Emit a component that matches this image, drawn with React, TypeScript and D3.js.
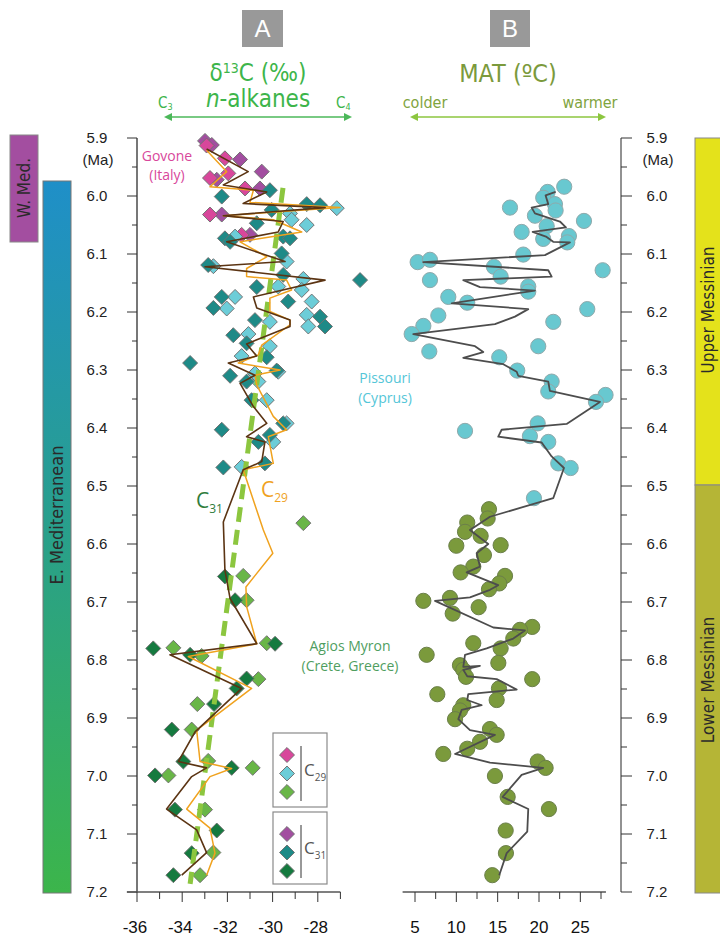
import React from 'react';
import * as d3 from 'd3';

// ---- panel A: d13C of n-alkanes, [value (permil), age (Ma)]
const govoneC29 = [[-32.92, 5.913], [-32.11, 5.935], [-31.96, 5.961], [-32.77, 5.969], [-31.22, 5.987], [-32.77, 6.032], [-31.37, 6.067]];
const govoneC31 = [[-32.99, 5.905], [-32.69, 5.912], [-31.44, 5.937], [-30.48, 5.958], [-32.47, 5.972], [-30.56, 5.987], [-32.25, 6.032], [-31.0, 6.067]];
const pissouriC29 = [[-29.23, 6.030], [-27.16, 6.021], [-29.16, 6.041], [-28.49, 6.050], [-31.66, 6.070], [-29.38, 6.113], [-32.62, 6.121], [-28.64, 6.143], [-29.75, 6.156], [-28.71, 6.162], [-31.66, 6.174], [-32.03, 6.194], [-28.27, 6.182], [-28.49, 6.205], [-30.12, 6.217], [-28.42, 6.225], [-31.07, 6.238], [-30.12, 6.259], [-31.37, 6.276], [-30.63, 6.320], [-30.78, 6.306], [-29.75, 6.303], [-30.26, 6.352], [-29.38, 6.392], [-29.97, 6.424], [-31.37, 6.467]];
const pissouriC31 = [[-30.12, 5.990], [-32.25, 6.001], [-30.04, 6.024], [-28.49, 6.014], [-27.90, 6.016], [-30.70, 6.047], [-29.53, 6.070], [-29.23, 6.073], [-32.11, 6.073], [-31.88, 6.079], [-29.60, 6.099], [-32.85, 6.119], [-29.53, 6.136], [-26.13, 6.145], [-30.70, 6.157], [-32.25, 6.174], [-32.62, 6.193], [-29.31, 6.182], [-27.90, 6.208], [-30.78, 6.214], [-27.68, 6.225], [-31.74, 6.240], [-31.15, 6.254], [-33.65, 6.288], [-30.26, 6.278], [-31.88, 6.310], [-31.15, 6.320], [-29.82, 6.301], [-30.93, 6.352], [-29.53, 6.392], [-32.25, 6.403], [-30.63, 6.424], [-30.12, 6.412], [-32.18, 6.468], [-30.34, 6.461]];
const agiosC29 = [[-28.64, 6.564], [-31.30, 6.655], [-31.15, 6.697], [-30.26, 6.771], [-34.39, 6.779], [-33.14, 6.793], [-30.63, 6.833], [-33.33, 6.876], [-33.58, 6.920], [-32.85, 6.974], [-30.88, 6.986], [-34.61, 6.999], [-32.99, 7.058], [-32.62, 7.132], [-33.21, 7.171]];
const agiosC31 = [[-32.11, 6.656], [-31.66, 6.697], [-29.89, 6.772], [-35.28, 6.780], [-33.65, 6.791], [-31.15, 6.832], [-31.59, 6.849], [-32.59, 6.876], [-34.46, 6.920], [-33.95, 6.975], [-31.81, 6.986], [-35.20, 6.999], [-34.32, 7.058], [-32.47, 7.094], [-33.58, 7.133], [-34.39, 7.171]];

const lineC31 = [[-32.92, 5.919], [-31.08, 5.958], [-32.18, 5.981], [-30.26, 5.993], [-31.30, 6.013], [-27.68, 6.020], [-32.18, 6.034], [-29.53, 6.044], [-29.75, 6.062], [-32.03, 6.079], [-29.45, 6.113], [-32.99, 6.122], [-27.68, 6.145], [-30.85, 6.174], [-30.70, 6.193], [-29.23, 6.214], [-29.23, 6.225], [-31.15, 6.255], [-30.70, 6.276], [-31.96, 6.288], [-30.78, 6.309], [-31.44, 6.323], [-30.85, 6.363], [-30.26, 6.392], [-31.15, 6.415], [-30.34, 6.424], [-30.48, 6.458], [-31.30, 6.472], [-32.18, 6.562], [-32.11, 6.645], [-31.88, 6.694], [-30.70, 6.772], [-34.54, 6.791], [-31.37, 6.849], [-33.43, 6.924], [-34.17, 6.975], [-32.92, 6.986], [-33.58, 7.001], [-34.69, 7.057], [-33.36, 7.093], [-32.92, 7.132], [-34.02, 7.171]];
const lineC29 = [[-32.92, 5.921], [-32.03, 5.958], [-32.77, 5.984], [-30.85, 5.990], [-31.0, 6.011], [-27.02, 6.020], [-32.18, 6.034], [-29.97, 6.041], [-28.71, 6.062], [-31.44, 6.079], [-30.26, 6.105], [-31.15, 6.125], [-31.15, 6.139], [-29.38, 6.145], [-29.16, 6.162], [-30.12, 6.176], [-30.12, 6.199], [-29.23, 6.214], [-29.23, 6.222], [-30.48, 6.257], [-30.63, 6.274], [-31.52, 6.288], [-29.67, 6.300], [-30.78, 6.309], [-30.70, 6.326], [-29.97, 6.380], [-29.38, 6.403], [-30.19, 6.415], [-29.97, 6.461], [-31.30, 6.472], [-30.41, 6.576], [-29.99, 6.616], [-31.18, 6.674], [-31.15, 6.708], [-30.70, 6.772], [-33.73, 6.794], [-30.93, 6.849], [-33.36, 6.921], [-33.21, 6.975], [-31.81, 6.987], [-32.77, 7.001], [-33.80, 7.057], [-32.77, 7.090], [-32.55, 7.133], [-32.92, 7.171]];
const trendLine = [[-29.54, 5.986], [-33.65, 7.186]];

// ---- panel B: MAT, [temperature (C), age (Ma)]
const pissouriMAT = [[23.05, 5.984], [21.04, 5.993], [20.51, 6.003], [16.49, 6.020], [21.93, 6.014], [22.01, 6.025], [19.51, 6.034], [25.44, 6.043], [20.93, 6.052], [17.90, 6.062], [23.62, 6.069], [20.51, 6.074], [23.42, 6.080], [18.10, 6.101], [5.32, 6.114], [6.81, 6.110], [27.70, 6.128], [14.55, 6.122], [6.81, 6.145], [15.36, 6.139], [18.70, 6.156], [18.70, 6.165], [9.03, 6.174], [11.32, 6.184], [25.84, 6.195], [7.82, 6.206], [21.73, 6.217], [6.01, 6.224], [4.60, 6.238], [19.91, 6.259], [6.73, 6.268], [15.19, 6.278], [17.37, 6.301], [21.53, 6.320], [21.12, 6.337], [28.05, 6.343], [26.89, 6.355], [11.05, 6.405], [19.84, 6.392], [18.90, 6.414], [21.12, 6.424], [22.33, 6.461], [23.83, 6.469], [19.39, 6.521]];
const agiosMAT = [[13.95, 6.540], [13.79, 6.556], [11.32, 6.563], [11.05, 6.579], [12.94, 6.586], [10.0, 6.603], [15.36, 6.602], [13.34, 6.619], [12.05, 6.639], [10.52, 6.649], [15.89, 6.655], [15.19, 6.668], [13.95, 6.678], [6.01, 6.698], [9.23, 6.693], [9.56, 6.720], [12.70, 6.709], [19.18, 6.743], [17.70, 6.748], [16.89, 6.763], [12.05, 6.771], [15.36, 6.780], [6.41, 6.791], [15.08, 6.805], [10.44, 6.809], [10.84, 6.817], [11.17, 6.829], [19.18, 6.833], [15.16, 6.849], [7.70, 6.859], [14.88, 6.869], [10.84, 6.878], [10.44, 6.887], [9.84, 6.902], [14.07, 6.919], [14.88, 6.929], [12.86, 6.941], [11.32, 6.953], [8.42, 6.962], [19.84, 6.975], [20.80, 6.986], [14.67, 7.0], [16.21, 7.036], [21.20, 7.057], [15.97, 7.094], [16.00, 7.133], [14.35, 7.171]];
const matLine = [[22.01, 5.993], [20.80, 5.999], [21.12, 6.014], [19.11, 6.020], [19.51, 6.030], [22.53, 6.044], [23.26, 6.054], [19.23, 6.062], [20.84, 6.070], [21.72, 6.079], [23.74, 6.080], [20.72, 6.102], [6.00, 6.114], [21.12, 6.128], [21.53, 6.139], [10.84, 6.145], [12.86, 6.157], [19.51, 6.163], [9.44, 6.185], [18.70, 6.195], [17.09, 6.208], [14.67, 6.221], [4.79, 6.238], [12.26, 6.259], [13.26, 6.269], [10.84, 6.279], [15.68, 6.290], [17.30, 6.303], [17.49, 6.310], [21.12, 6.320], [21.32, 6.336], [27.37, 6.355], [23.34, 6.393], [15.48, 6.403], [15.07, 6.415], [20.32, 6.425], [21.53, 6.449], [23.02, 6.469], [21.72, 6.521], [14.07, 6.553], [11.65, 6.576], [13.86, 6.600], [12.46, 6.616], [12.86, 6.639], [11.25, 6.649], [15.07, 6.671], [14.07, 6.679], [11.65, 6.692], [7.42, 6.698], [14.47, 6.744], [18.30, 6.749], [16.89, 6.763], [13.67, 6.780], [11.05, 6.791], [10.84, 6.812], [12.86, 6.810], [10.84, 6.817], [11.32, 6.828], [14.88, 6.833], [17.30, 6.851], [11.44, 6.859], [11.32, 6.869], [13.07, 6.878], [10.65, 6.886], [10.24, 6.902], [11.65, 6.921], [14.67, 6.929], [9.84, 6.962], [14.07, 6.977], [20.51, 6.986], [17.90, 6.998], [15.60, 7.036], [18.70, 7.057], [18.58, 7.096], [16.09, 7.133], [15.19, 7.171]];

const ageLabels = [5.9, 6.0, 6.1, 6.2, 6.3, 6.4, 6.5, 6.6, 6.7, 6.8, 6.9, 7.0, 7.1, 7.2];
const d13cTicks = [-36, -35, -34, -33, -32, -31, -30, -29, -28, -27];
const d13cLabels = [-36, -34, -32, -30, -28];
const matTicks = [5, 7.5, 10, 12.5, 15, 17.5, 20, 22.5, 25, 27.5];
const matLabels = [5, 10, 15, 20, 25];

const COL = {
  govone29: '#d8479b', govone31: '#a24ea0',
  pis29: '#6ccdd8', pis31: '#1e8a87',
  agi29: '#69b647', agi31: '#157a3f',
  brown: '#5b3413', orange: '#f0a21e', trend: '#8cc63f',
  cyanDot: '#68c8d0', oliveDot: '#7b9a3c',
};

const NARROW = "'Liberation Sans Narrow', 'DejaVu Sans Condensed', sans-serif";
const ARIAL = "'Liberation Sans', Arial, sans-serif";
const MYRIAD = "'Open Sans', 'Noto Sans', sans-serif";

const yAge = d3.scaleLinear().domain([5.9, 7.2]).range([138, 892]);
const xA = d3.scaleLinear().domain([-36, -27]).range([137, 340.4]);
const xB = d3.scaleLinear().domain([5, 27.5]).range([415, 601]);

const diamond = d3.symbol().type(d3.symbolSquare).size(112)() as string;
const lineA = d3.line().x((d: any) => xA(d[0])).y((d: any) => yAge(d[1]));
const lineBm = d3.line().x((d: any) => xB(d[0])).y((d: any) => yAge(d[1]));
const minorAges = d3.range(0, 27).map(i => +(5.9 + i * 0.05).toFixed(2));

function Diamonds(props: any) {
  const { data, fill } = props;
  return (
    <g>
      {data.map((d: number[], i: number) => (
        <path key={i} d={diamond} fill={fill} stroke="#6f6f6f" strokeWidth={0.9}
          transform={`translate(${xA(d[0])},${yAge(d[1])}) rotate(45)`} />
      ))}
    </g>
  );
}

function Arrow(props: any) {
  const { x1, x2, yy, color } = props;
  return (
    <g fill={color} stroke={color}>
      <line x1={x1 + 4} x2={x2 - 4} y1={yy} y2={yy} strokeWidth={1.6} />
      <path d={`M${x1},${yy}L${x1 + 8},${yy - 4}L${x1 + 8},${yy + 4}Z`} stroke="none" />
      <path d={`M${x2},${yy}L${x2 - 8},${yy - 4}L${x2 - 8},${yy + 4}Z`} stroke="none" />
    </g>
  );
}

function LegendBox(props: any) {
  const { top, h, fills, label } = props;
  return (
    <g>
      <rect x={273} y={top} width={54} height={h} fill="#fff" stroke="#8a8a8a" strokeWidth={1.2} />
      {fills.map((f: string, i: number) => (
        <path key={i} d={diamond} fill={f} stroke="#6f6f6f" strokeWidth={0.9}
          transform={`translate(287,${top + 22 + i * 18.5}) rotate(45)`} />
      ))}
      <line x1={301} x2={301} y1={top + 13} y2={top + h - 6} stroke="#333" strokeWidth={1} />
      <text x={304} y={top + h / 2 + 6} fontFamily={MYRIAD} fontSize={17} fill="#555">
        C<tspan fontSize={10} dy={5}>{label}</tspan>
      </text>
    </g>
  );
}

export default function App() {
  const axisColor = '#555';
  return (
    <svg width={720} height={940} style={{ position: 'absolute', left: 0, top: 0, background: '#fff' }}>
      <defs>
        <linearGradient id="emed" x1="0" y1="0" x2="0" y2="1">
          <stop offset="0" stopColor="#1f8fc8" />
          <stop offset="0.5" stopColor="#29a08a" />
          <stop offset="1" stopColor="#3cb54b" />
        </linearGradient>
      </defs>

      {/* header */}
      <rect x={242} y={10} width={41} height={37} fill="#999" />
      <text x={262.5} y={37} textAnchor="middle" fill="#fff" fontFamily={ARIAL} fontSize={24}>A</text>
      <rect x={490} y={10} width={40} height={37} fill="#999" />
      <text x={510} y={37} textAnchor="middle" fill="#fff" fontFamily={ARIAL} fontSize={24}>B</text>

      <text x={258} y={81} textAnchor="middle" fill="#3db54a" fontFamily={NARROW} fontSize={24}>
        δ<tspan fontSize={14} dy={-8}>13</tspan><tspan dy={8}>C (‰)</tspan>
      </text>
      <text x={258} y={107} textAnchor="middle" fill="#3db54a" fontFamily={NARROW} fontSize={24}>
        <tspan fontStyle="italic">n</tspan>-alkanes
      </text>
      <text x={158} y={108} fill="#3db54a" fontFamily={NARROW} fontSize={15}>
        C<tspan fontSize={9} dy={2}>3</tspan>
      </text>
      <text x={336} y={108} fill="#3db54a" fontFamily={NARROW} fontSize={15}>
        C<tspan fontSize={9} dy={2}>4</tspan>
      </text>
      <Arrow x1={164} x2={352} yy={117} color="#4cb85a" />

      <text x={508} y={82} textAnchor="middle" fill="#7b9a3c" fontFamily={NARROW} fontSize={25}>MAT (ºC)</text>
      <text x={425} y={108} textAnchor="middle" fill="#7fa43e" fontFamily={NARROW} fontSize={16}>colder</text>
      <text x={590} y={108} textAnchor="middle" fill="#7fa43e" fontFamily={NARROW} fontSize={16}>warmer</text>
      <Arrow x1={410} x2={606} yy={117} color="#8cc63f" />

      {/* region bars */}
      <rect x={10} y={135} width={28} height={107} fill="#a34ea0" stroke="#888" strokeWidth={1} />
      <text transform="translate(30,188) rotate(-90)" textAnchor="middle" fontFamily={NARROW} fontSize={17} fill="#2a2a2a">W. Med.</text>
      <rect x={43} y={181} width={28} height={712} fill="url(#emed)" stroke="#777" strokeWidth={1} />
      <text transform="translate(63,515) rotate(-90)" textAnchor="middle" fontFamily={NARROW} fontSize={18} fill="#2a2a2a">E. Mediterranean</text>

      <rect x={695} y={138} width={26} height={347} fill="#e4e21b" stroke="#888" strokeWidth={1} />
      <text transform="translate(714,310) rotate(-90)" textAnchor="middle" fontFamily={NARROW} fontSize={17} fill="#2a2a2a">Upper Messinian</text>
      <rect x={695} y={485} width={26} height={408} fill="#b5b536" stroke="#888" strokeWidth={1} />
      <text transform="translate(714,680) rotate(-90)" textAnchor="middle" fontFamily={NARROW} fontSize={17} fill="#2a2a2a">Lower Messinian</text>

      {/* left age axis */}
      <line x1={137} x2={137} y1={yAge(5.9)} y2={yAge(7.2)} stroke={axisColor} strokeWidth={1.6} />
      {minorAges.map((a, i) => (
        <line key={i} x1={137} x2={i % 2 === 0 ? 127 : 132} y1={yAge(a)} y2={yAge(a)} stroke="#333" strokeWidth={1} />
      ))}
      {ageLabels.map(a => (
        <text key={a} x={97} y={yAge(a)} dy="0.35em" textAnchor="middle" fontFamily={ARIAL} fontSize={15} fill="#222">{a.toFixed(1)}</text>
      ))}
      <text x={98} y={yAge(5.9) + 22} dy="0.35em" textAnchor="middle" fontFamily={ARIAL} fontSize={15} fill="#222">(Ma)</text>

      {/* right age axis */}
      <line x1={621} x2={621} y1={yAge(5.9)} y2={yAge(7.2)} stroke="#777" strokeWidth={1.6} />
      {minorAges.map((a, i) => (
        <line key={i} x1={621} x2={i % 2 === 0 ? 632 : 627} y1={yAge(a)} y2={yAge(a)} stroke="#333" strokeWidth={1} />
      ))}
      {ageLabels.map(a => (
        <text key={a} x={657} y={yAge(a)} dy="0.35em" textAnchor="middle" fontFamily={ARIAL} fontSize={15} fill="#222">{a.toFixed(1)}</text>
      ))}
      <text x={658} y={yAge(5.9) + 22} dy="0.35em" textAnchor="middle" fontFamily={ARIAL} fontSize={15} fill="#222">(Ma)</text>

      {/* panel A x axis */}
      <line x1={xA(-36.45)} x2={xA(-27)} y1={yAge(7.2)} y2={yAge(7.2)} stroke={axisColor} strokeWidth={1.4} />
      {d13cTicks.map(t => (
        <line key={t} x1={xA(t)} x2={xA(t)} y1={yAge(7.2)} y2={yAge(7.2) + (t % 2 === 0 ? 10 : 7)} stroke="#333" strokeWidth={1} />
      ))}
      {d13cLabels.map(t => (
        <text key={t} x={xA(t) - 2} y={933} textAnchor="middle" fontFamily={ARIAL} fontSize={17} fill="#111">{t}</text>
      ))}

      {/* panel B x axis */}
      <line x1={xB(3.5)} x2={xB(28.1)} y1={yAge(7.2)} y2={yAge(7.2)} stroke={axisColor} strokeWidth={1.4} />
      {matTicks.map(t => (
        <line key={t} x1={xB(t)} x2={xB(t)} y1={yAge(7.2)} y2={yAge(7.2) + (t % 5 === 0 ? 10 : 7)} stroke="#333" strokeWidth={1} />
      ))}
      {matLabels.map(t => (
        <text key={t} x={xB(t)} y={933} textAnchor="middle" fontFamily={ARIAL} fontSize={17} fill="#111">{t}</text>
      ))}

      {/* panel A marks */}
      <Diamonds data={govoneC31} fill={COL.govone31} />
      <Diamonds data={govoneC29} fill={COL.govone29} />
      <Diamonds data={pissouriC29} fill={COL.pis29} />
      <Diamonds data={pissouriC31} fill={COL.pis31} />
      <Diamonds data={agiosC29} fill={COL.agi29} />
      <Diamonds data={agiosC31} fill={COL.agi31} />
      <path d={lineA(trendLine as any) as string} fill="none" stroke={COL.trend} strokeWidth={5} strokeDasharray="15 8" />
      <path d={lineA(lineC29 as any) as string} fill="none" stroke={COL.orange} strokeWidth={1.5} strokeLinejoin="round" />
      <path d={lineA(lineC31 as any) as string} fill="none" stroke={COL.brown} strokeWidth={1.6} strokeLinejoin="round" />

      <text x={167} y={161} textAnchor="middle" fontFamily={MYRIAD} fontSize={14} fill="#d8479b">Govone</text>
      <text x={167} y={180} textAnchor="middle" fontFamily={MYRIAD} fontSize={14} fill="#d8479b">(Italy)</text>
      <text x={385} y={383} textAnchor="middle" fontFamily={MYRIAD} fontSize={14} fill="#55c6d8">Pissouri</text>
      <text x={385} y={403} textAnchor="middle" fontFamily={MYRIAD} fontSize={14} fill="#55c6d8">(Cyprus)</text>
      <text x={350} y={651} textAnchor="middle" fontFamily={MYRIAD} fontSize={14} fill="#4f9e5f">Agios Myron</text>
      <text x={350} y={671} textAnchor="middle" fontFamily={MYRIAD} fontSize={14} fill="#4f9e5f">(Crete, Greece)</text>
      <text x={196} y={508} fontFamily={MYRIAD} fontSize={21} fill="#2f7d3d">
        C<tspan fontSize={12} dy={5}>31</tspan>
      </text>
      <text x={261} y={497} fontFamily={MYRIAD} fontSize={21} fill={COL.orange}>
        C<tspan fontSize={12} dy={5}>29</tspan>
      </text>

      <LegendBox top={733} h={74} fills={[COL.govone29, COL.pis29, COL.agi29]} label="29" />
      <LegendBox top={812} h={72} fills={[COL.govone31, COL.pis31, COL.agi31]} label="31" />

      {/* panel B marks */}
      {pissouriMAT.map((d, i) => (
        <circle key={'p' + i} cx={xB(d[0])} cy={yAge(d[1])} r={7.6} fill={COL.cyanDot} stroke="#8fa9ab" strokeWidth={1} />
      ))}
      {agiosMAT.map((d, i) => (
        <circle key={'a' + i} cx={xB(d[0])} cy={yAge(d[1])} r={7.6} fill={COL.oliveDot} stroke="#6b7f4a" strokeWidth={1} />
      ))}
      <path d={lineBm(matLine as any) as string} fill="none" stroke="#4d4d4d" strokeWidth={1.8} strokeLinejoin="round" />
    </svg>
  );
}
